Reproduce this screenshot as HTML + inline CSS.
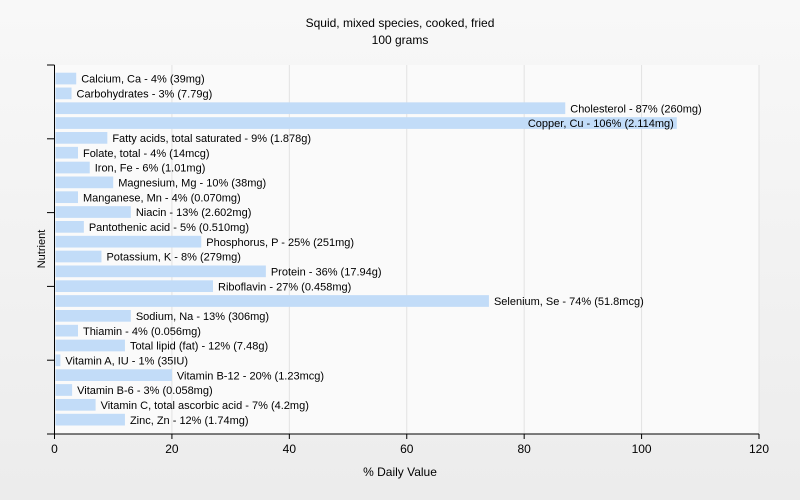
<!DOCTYPE html>
<html><head><meta charset="utf-8"><style>
html,body{margin:0;padding:0;overflow:hidden;width:800px;height:500px;background:#f0f0f0;font-family:"Liberation Sans",sans-serif}
svg{display:block}
svg text{font-family:"Liberation Sans",sans-serif;fill:#000}
</style></head><body>
<svg id="c" width="800" height="500">
<defs><linearGradient id="bg" x1="0" y1="0" x2="0" y2="1"><stop offset="0" stop-color="#f8f8f8"/><stop offset="1" stop-color="#ececec"/></linearGradient></defs>
<rect width="800" height="500" fill="url(#bg)"/>
<text x="400" y="27" font-size="12" text-anchor="middle">Squid, mixed species, cooked, fried</text>
<text x="400" y="44" font-size="12" text-anchor="middle">100 grams</text>
<text x="400" y="476" font-size="12" text-anchor="middle">% Daily Value</text>
<text transform="translate(45,249) rotate(-90)" font-size="11" text-anchor="middle">Nutrient</text>
<g id="plot"></g>
</svg>
<script>
const categories=["Calcium, Ca","Carbohydrates","Cholesterol","Copper, Cu","Fatty acids, total saturated","Folate, total","Iron, Fe","Magnesium, Mg","Manganese, Mn","Niacin","Pantothenic acid","Phosphorus, P","Potassium, K","Protein","Riboflavin","Selenium, Se","Sodium, Na","Thiamin","Total lipid (fat)","Vitamin A, IU","Vitamin B-12","Vitamin B-6","Vitamin C, total ascorbic acid","Zinc, Zn"];
const values=[3.7,2.9,87,106,9,4,6,10,4,13,5,25,8,36,27,74,13,4,12,1,20,3,7,12];
const pctLabels=["4%","3%","87%","106%","9%","4%","6%","10%","4%","13%","5%","25%","8%","36%","27%","74%","13%","4%","12%","1%","20%","3%","7%","12%"];
const amounts=["39mg","7.79g","260mg","2.114mg","1.878g","14mcg","1.01mg","38mg","0.070mg","2.602mg","0.510mg","251mg","279mg","17.94g","0.458mg","51.8mcg","306mg","0.056mg","7.48g","35IU","1.23mcg","0.058mg","4.2mg","1.74mg"];
const xTicks=[0,20,40,60,80,100,120];
const NS="http://www.w3.org/2000/svg";
const X0=54.5,X1=759,XMAX=120,YT=65,YB=434;
const x=v=>X0+v/XMAX*(X1-X0);
const y=i=>72.7+i*14.83;
const g=document.getElementById('plot');
function mk(t,a){const e=document.createElementNS(NS,t);for(const k in a)e.setAttribute(k,a[k]);g.appendChild(e);return e;}
let e=mk('rect',{x:X0,y:YT,width:X1-X0,height:YB-YT,fill:'#fafafa'});


xTicks.forEach(t=>{if(t>0){const l=mk('line',{x1:x(t),x2:x(t),y1:YT,y2:YB,stroke:'#e2e2e2'});

}
const tk=mk('line',{x1:x(t),x2:x(t),y1:YB,y2:YB+5,stroke:'#000'});


const tl=mk('text',{x:x(t),y:YB+19,'font-size':12,'text-anchor':'middle'});tl.textContent=t;

});
values.forEach((v,i)=>{
const b=mk('rect',{x:X0+1,y:y(i),width:x(v)-X0-1,height:11.7,fill:'#c2dcf8'});


const txt=categories[i]+' - '+pctLabels[i]+' ('+amounts[i]+')';
const w=txt.length*5.9;
let tx=x(v)+5,anchor='start';
if(tx+w>X1){tx=x(v)-3;anchor='end';}
const t=mk('text',{x:tx,y:y(i)+10,'font-size':11,'text-anchor':anchor});t.textContent=txt;

});
for(let k=0;k<6;k++){const tk=mk('line',{x1:47,x2:X0,y1:YT+k*73.8,y2:YT+k*73.8,stroke:'#000'});

}
e=mk('line',{x1:X0,x2:X0,y1:YT,y2:YB,stroke:'#000'});


e=mk('line',{x1:47,x2:X1,y1:YB,y2:YB,stroke:'#000'});


</script>
</body></html>
